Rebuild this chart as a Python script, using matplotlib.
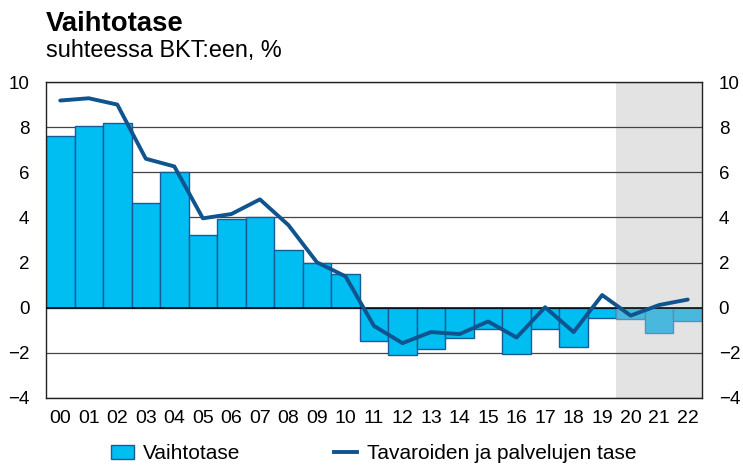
import numpy as np
import matplotlib.pyplot as plt
from matplotlib.patches import Patch
from matplotlib.lines import Line2D

plt.rcParams["font.family"] = ["Liberation Sans", "DejaVu Sans"]

# Vuodet 2000-2022, viimeiset kolme ennustetta
years = ["00", "01", "02", "03", "04", "05", "06", "07", "08", "09", "10", "11",
         "12", "13", "14", "15", "16", "17", "18", "19", "20", "21", "22"]
current_account = [7.6, 8.05, 8.2, 4.65, 6.0, 3.23, 3.94, 4.03, 2.57, 1.99, 1.5, -1.46,
                   -2.08, -1.82, -1.33, -0.93, -2.04, -0.93, -1.73, -0.44, -0.49, -1.14, -0.58]
goods_services = [9.18, 9.28, 9.0, 6.6, 6.26, 3.96, 4.15, 4.8, 3.66, 2.01, 1.39, -0.81,
                  -1.57, -1.08, -1.17, -0.61, -1.32, 0.02, -1.08, 0.56, -0.35, 0.12, 0.36]
forecast_start = 20

BAR = "#00bdf2"
BAR_EDGE = "#1a5a96"
FC_BAR = "#48b9dc"
FC_EDGE = "#5a8fb8"
LINE = "#10548f"

fig = plt.figure(figsize=(7.43, 4.66), dpi=100)
ax = fig.add_axes([0.0619, 0.146, 0.8829, 0.678])

x = np.arange(len(years))
ax.axvspan(forecast_start - 0.5, len(years) - 0.5, color="#e3e3e3", zorder=0, lw=0)

for v in range(-4, 11, 2):
    if v == 0:
        continue
    ax.axhline(v, color="#444444", lw=0.9, zorder=1)

colors = [BAR if i < forecast_start else FC_BAR for i in x]
edges = [BAR_EDGE if i < forecast_start else FC_EDGE for i in x]
ax.bar(x, current_account, width=1.0, color=colors, edgecolor=edges, linewidth=1.0, zorder=2)
ax.axhline(0, color="black", lw=1.1, zorder=3)
ax.plot(x, goods_services, color=LINE, lw=2.8, zorder=4, solid_capstyle="round")

ax.set_xlim(-0.5, len(years) - 0.5)
ax.set_ylim(-4, 10)
ax.set_xticks(x)
ax.set_xticklabels(years)
ax.set_yticks(range(-4, 11, 2))
ax.tick_params(axis="x", length=0, labelsize=14, pad=9)
ax.tick_params(axis="y", length=0, labelsize=13.5, pad=12, right=True, labelright=True)
for s in ax.spines.values():
    s.set_color("#222222")
    s.set_linewidth(1.0)

fig.text(0.0619, 0.933, "Vaihtotase", fontsize=19.8, fontweight="bold", ha="left", va="baseline")
fig.text(0.0619, 0.878, "suhteessa BKT:een, %", fontsize=16.9, ha="left", va="baseline")

handles = [Patch(facecolor=BAR, edgecolor=BAR_EDGE, linewidth=1.0),
           Line2D([0], [0], color=LINE, lw=2.8)]
fig.legend(handles, ["Vaihtotase", "Tavaroiden ja palvelujen tase"],
           loc="center left", bbox_to_anchor=(0.124, 0.026), ncol=2, frameon=False,
           fontsize=15, columnspacing=4.5, handlelength=1.1, handletextpad=0.45)

fig.savefig("out.png", dpi=100)
